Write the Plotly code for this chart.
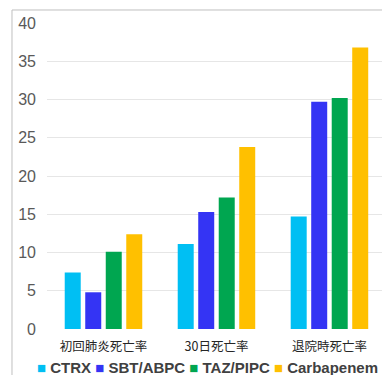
import plotly.graph_objects as go

# Mortality rates (%) by antibiotic regimen
categories = ["初回肺炎死亡率", "30日死亡率", "退院時死亡率"]
series_names = ["CTRX", "SBT/ABPC", "TAZ/PIPC", "Carbapenem"]
ctrx = [7.4, 11.1, 14.7]
sbt_abpc = [4.8, 15.3, 29.7]
taz_pipc = [10.1, 17.2, 30.2]
carbapenem = [12.4, 23.8, 36.8]
y_ticks = [0, 5, 10, 15, 20, 25, 30, 35, 40]

colors = ["#00BFF3", "#3434F4", "#00A650", "#FFC000"]
values = [ctrx, sbt_abpc, taz_pipc, carbapenem]

fig = go.Figure()
for name, vals, col in zip(series_names, values, colors):
    fig.add_trace(go.Bar(
        name=name, x=list(range(len(categories))), y=vals,
        marker=dict(color=col, line=dict(width=0)),
        showlegend=False,
    ))

# Compact legend line drawn as one annotation
legend_text = " ".join(
    f'<span style="color:{c}">■</span> {n}' for n, c in zip(series_names, colors)
)
fig.add_annotation(
    text=legend_text, xref="paper", yref="paper",
    x=-0.035, y=-0.125, xanchor="left", yanchor="middle",
    showarrow=False,
    font=dict(family="Liberation Sans, Arial, sans-serif", size=15,
              color="#404040", weight="bold"),
)

# Outer chart frame
fig.add_shape(
    type="rect", xref="paper", yref="paper",
    x0=-0.1045, x1=1.1, y0=-0.3, y1=1.0425,
    line=dict(color="#BFBFBF", width=1), fillcolor="rgba(0,0,0,0)",
    layer="below",
)

fig.update_layout(
    width=382, height=375,
    margin=dict(l=47, r=0, t=23, b=46),
    paper_bgcolor="white", plot_bgcolor="white",
    barmode="group", bargap=0.274, bargroupgap=0.22,
    xaxis=dict(
        range=[-0.5, 2.465],
        tickmode="array", tickvals=list(range(len(categories))),
        ticktext=categories,
        tickfont=dict(family="Noto Sans CJK JP", size=12.5, color="#262626"),
        showgrid=False, zeroline=False, showline=False, ticks="",
        ticklabelstandoff=8,
    ),
    yaxis=dict(
        range=[0, 40], tickvals=y_ticks,
        tickfont=dict(family="Liberation Sans, Arial, sans-serif", size=16,
                      color="#595959"),
        showgrid=True, gridcolor="#E6E6E6", gridwidth=1,
        zeroline=False, showline=False, ticks="", ticklabelstandoff=10,
    ),
)

fig.write_html("out.html")
